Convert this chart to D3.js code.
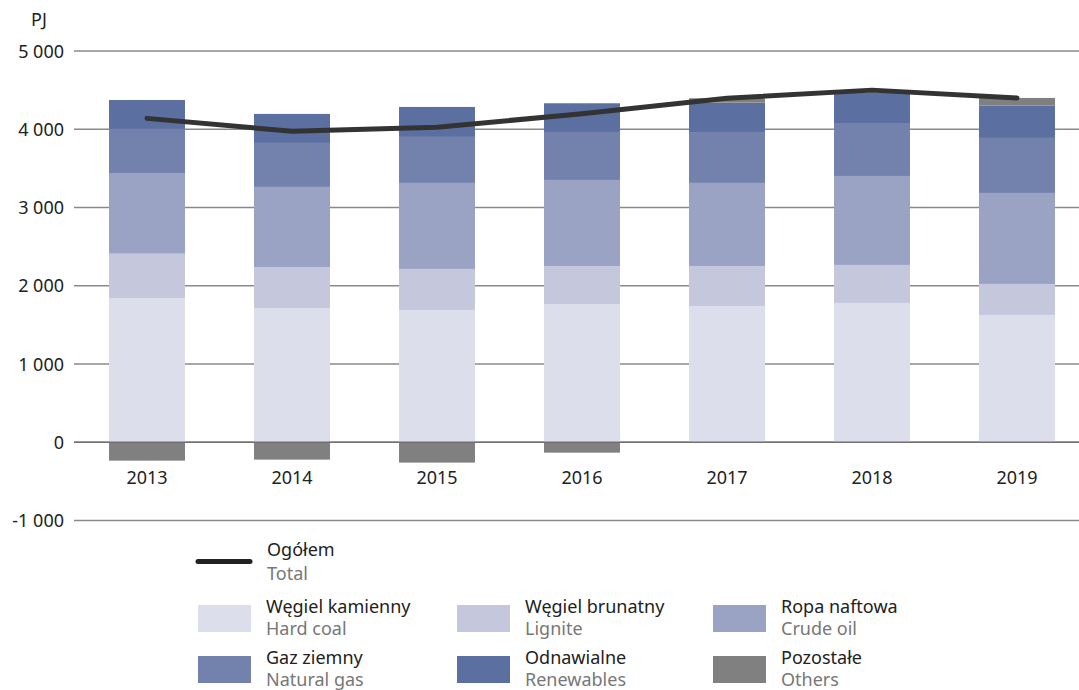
<!DOCTYPE html>
<html>
<head>
<meta charset="utf-8">
<script src="https://cdn.jsdelivr.net/npm/d3@7"></script>
<style>
  body { margin: 0; background: #fff; }
  svg { font-family: "Noto Sans", sans-serif; }
</style>
</head>
<body>
<svg id="chart" width="1079" height="690"></svg>
<script>
// values in PJ
let years = ["2013", "2014", "2015", "2016", "2017", "2018", "2019"];
let hardCoal = [1844, 1716, 1691, 1767, 1742, 1780, 1627];
let lignite = [566, 524, 524, 486, 511, 486, 396];
let crudeOil = [1031, 1023, 1099, 1099, 1061, 1137, 1163];
let naturalGas = [563, 562, 588, 613, 651, 677, 703];
let renewables = [370, 371, 383, 367, 375, 390, 413];
let others = [-235, -222, -260, -133, 56, 30, 98];
let total = [4139, 3974, 4025, 4199, 4396, 4500, 4400];
let yTicks = [-1000, 0, 1000, 2000, 3000, 4000, 5000];

let seriesNames = [
  { key: "hardCoal", pl: "Węgiel kamienny", en: "Hard coal", color: "#dddeeb" },
  { key: "lignite", pl: "Węgiel brunatny", en: "Lignite", color: "#c5c7dd" },
  { key: "crudeOil", pl: "Ropa naftowa", en: "Crude oil", color: "#9aa3c4" },
  { key: "naturalGas", pl: "Gaz ziemny", en: "Natural gas", color: "#7382ad" },
  { key: "renewables", pl: "Odnawialne", en: "Renewables", color: "#5c6fa1" },
  { key: "others", pl: "Pozostałe", en: "Others", color: "#808080" },
];

let rows = years.map((y, i) => ({
  year: y,
  hardCoal: hardCoal[i],
  lignite: lignite[i],
  crudeOil: crudeOil[i],
  naturalGas: naturalGas[i],
  renewables: renewables[i],
  others: others[i],
  total: total[i],
}));

let svg = d3.select("#chart");
let fontSize = 18;

let x = d3
  .scaleBand()
  .domain(years)
  .range([74.5, 1089.5])
  .paddingInner(0.476)
  .paddingOuter(0.238);

let y = d3.scaleLinear().domain([-1000, 5000]).range([520.5, 51]);

let locale = d3.formatLocale({
  decimal: ",",
  thousands: " ",
  grouping: [3],
  currency: ["", " zł"],
  minus: "-",
});
let fmt = locale.format(",d");

// grid lines + y labels
let grid = svg.append("g");
grid
  .selectAll("line")
  .data(yTicks)
  .enter()
  .append("line")
  .attr("x1", 74)
  .attr("x2", 1079)
  .attr("y1", (d) => y(d))
  .attr("y2", (d) => y(d))
  .attr("stroke", "#8a8a8a")
  .attr("stroke-width", 1.3);

grid
  .selectAll("text")
  .data(yTicks)
  .enter()
  .append("text")
  .attr("x", 64)
  .attr("y", (d) => y(d) + 6.5)
  .attr("text-anchor", "end")
  .attr("font-size", fontSize)
  .attr("fill", "#222")
  .text((d) => fmt(d));

svg
  .append("text")
  .attr("x", 31)
  .attr("y", 26)
  .attr("font-size", fontSize)
  .attr("fill", "#222")
  .text("PJ");

// stacked bars
let stack = d3
  .stack()
  .keys(seriesNames.map((s) => s.key))
  .offset(d3.stackOffsetDiverging);

let layers = svg
  .append("g")
  .selectAll("g")
  .data(stack(rows))
  .enter()
  .append("g")
  .attr("fill", (d, i) => seriesNames[i].color);

layers
  .selectAll("rect")
  .data((d) => d)
  .enter()
  .append("rect")
  .attr("x", (d) => x(d.data.year))
  .attr("width", x.bandwidth())
  .attr("y", (d) => y(Math.max(d[0], d[1])))
  .attr("height", (d) => Math.abs(y(d[0]) - y(d[1])));

// zero line stays on top of bars
svg
  .append("line")
  .attr("x1", 74)
  .attr("x2", 1079)
  .attr("y1", y(0))
  .attr("y2", y(0))
  .attr("stroke", "#707070")
  .attr("stroke-width", 1.3);

// year labels
svg
  .append("g")
  .selectAll("text")
  .data(years)
  .enter()
  .append("text")
  .attr("x", (d) => x(d) + x.bandwidth() / 2)
  .attr("y", 484)
  .attr("text-anchor", "middle")
  .attr("font-size", fontSize)
  .attr("fill", "#222")
  .text((d) => d);

// total line
let line = d3
  .line()
  .x((d) => x(d.year) + x.bandwidth() / 2)
  .y((d) => y(d.total));

svg
  .append("path")
  .datum(rows)
  .attr("d", line)
  .attr("fill", "none")
  .attr("stroke", "#333")
  .attr("stroke-width", 5)
  .attr("stroke-linecap", "round")
  .attr("stroke-linejoin", "round");

// legend
let legend = svg.append("g");

legend
  .append("line")
  .attr("x1", 198)
  .attr("x2", 250)
  .attr("y1", 561.5)
  .attr("y2", 561.5)
  .attr("stroke", "#222")
  .attr("stroke-width", 5)
  .attr("stroke-linecap", "round");

legend
  .append("text")
  .attr("x", 267)
  .attr("y", 556)
  .attr("font-size", fontSize)
  .attr("fill", "#222")
  .text("Ogółem");

legend
  .append("text")
  .attr("x", 267)
  .attr("y", 580)
  .attr("font-size", fontSize)
  .attr("fill", "#777")
  .text("Total");

let colX = [198, 457, 713];
let rowY = [605, 656];

let items = legend
  .selectAll("g.item")
  .data(seriesNames)
  .enter()
  .append("g")
  .attr("class", "item")
  .attr(
    "transform",
    (d, i) => `translate(${colX[i % 3]}, ${rowY[Math.floor(i / 3)]})`
  );

items
  .append("rect")
  .attr("width", 53)
  .attr("height", 27)
  .attr("fill", (d) => d.color);

items
  .append("text")
  .attr("x", 68)
  .attr("y", 8)
  .attr("font-size", fontSize)
  .attr("fill", "#222")
  .text((d) => d.pl);

items
  .append("text")
  .attr("x", 68)
  .attr("y", 30)
  .attr("font-size", fontSize)
  .attr("fill", "#777")
  .text((d) => d.en);
</script>
</body>
</html>
